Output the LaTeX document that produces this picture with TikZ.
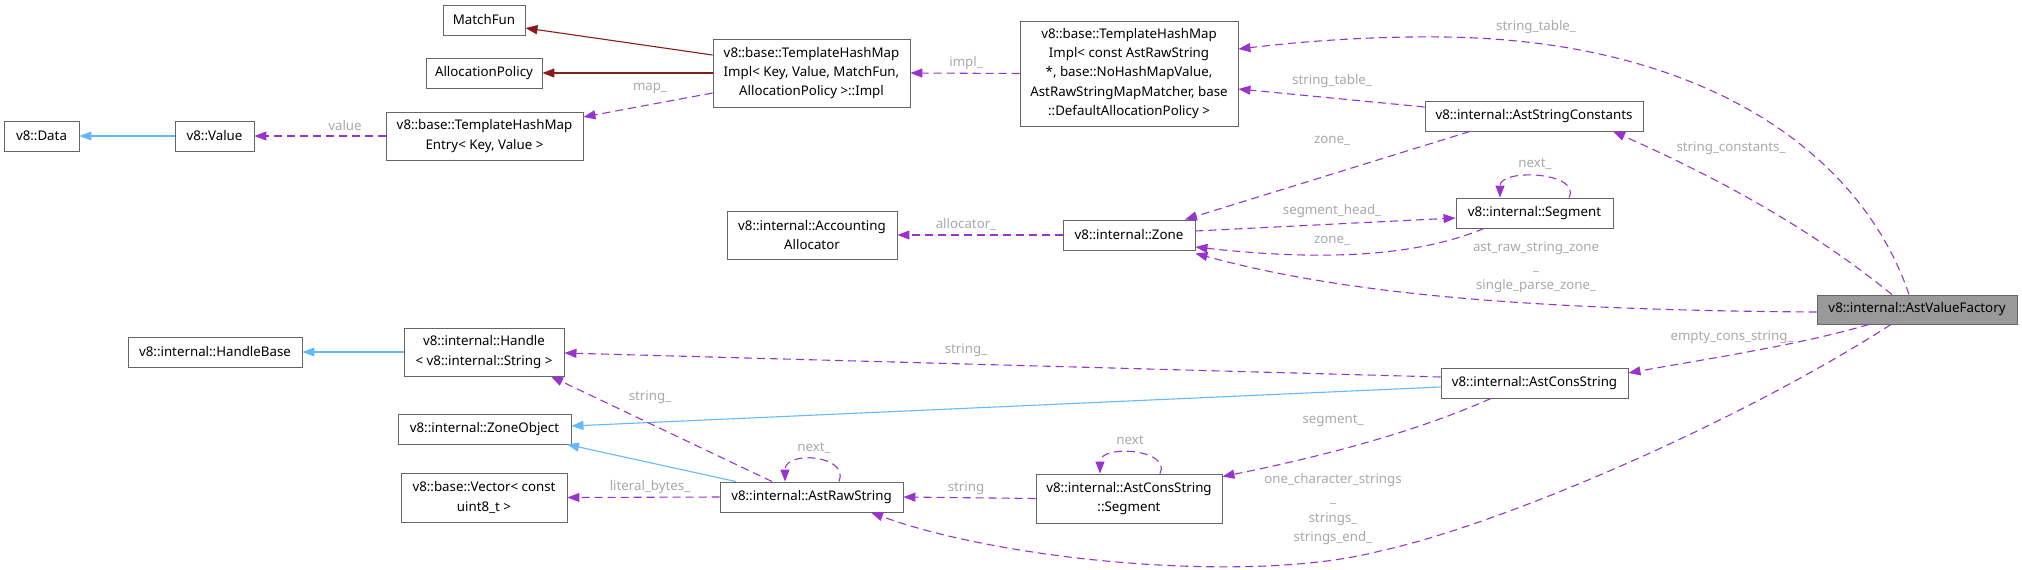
\documentclass[tikz,border=0pt]{standalone}
\usepackage{fontspec}
\setmainfont{Noto Sans}
\usetikzlibrary{arrows.meta}
\definecolor{usecol}{HTML}{9A32CD}
\definecolor{inhcol}{HTML}{63B8FF}
\definecolor{tplcol}{HTML}{8B1A1A}
\definecolor{boxline}{HTML}{666666}
\definecolor{focusfill}{HTML}{999999}
\definecolor{lblcol}{HTML}{A8A8A8}
\newcommand{\boxfont}{\fontsize{13.3}{19.2}\selectfont}

\begin{document}
\begin{tikzpicture}[x=1pt,y=-1pt,
  cls/.style={draw=boxline,fill=white,line width=0.9pt,align=center,inner sep=0pt,font=\boxfont,minimum height=30pt},
  focus/.style={cls,fill=focusfill},
  use/.style={draw=usecol,dash pattern=on 8pt off 5pt,line width=1.1pt,-{Triangle[length=12pt,width=9pt]}},
  inh/.style={draw=inhcol,line width=1.1pt,-{Triangle[length=12pt,width=9pt]}},
  tpl/.style={draw=tplcol,line width=1.1pt,-{Triangle[length=12pt,width=9pt]}},
  lbl/.style={text=lblcol,font=\boxfont,align=center,inner sep=0pt}]
  \useasboundingbox (0,0) rectangle (2022,570);

  \node[cls,minimum width=82pt] (matchfun) at (484,20) {MatchFun};
  \node[cls,minimum width=116pt] (allocpolicy) at (484,73) {AllocationPolicy};
  \node[cls,minimum width=75pt] (data) at (41.5,136) {v8::Data};
  \node[cls,minimum width=79pt] (value) at (214.5,136) {v8::Value};
  \node[cls,minimum width=197pt,minimum height=48pt] (entry) at (484.5,136) {v8::base::TemplateHashMap\\Entry< Key, Value >};
  \node[cls,minimum width=197pt,minimum height=68pt] (implkey) at (811.5,73) {v8::base::TemplateHashMap\\Impl< Key, Value, MatchFun,\\AllocationPolicy >::Impl};
  \node[cls,minimum width=218pt,minimum height=105pt] (implast) at (1129,73.5) {v8::base::TemplateHashMap\\Impl< const AstRawString\\{}*, base::NoHashMapValue,\\AstRawStringMapMatcher, base\\::DefaultAllocationPolicy >};
  \node[cls,minimum width=170pt,minimum height=48pt] (accalloc) at (812,235) {v8::internal::Accounting\\Allocator};
  \node[cls,minimum width=132pt] (zone) at (1129,235) {v8::internal::Zone};
  \node[cls,minimum width=218pt] (strconst) at (1534,116) {v8::internal::AstStringConstants};
  \node[cls,minimum width=157pt] (segment) at (1534.5,213) {v8::internal::Segment};
  \node[focus,minimum width=200pt,minimum height=29pt] (factory) at (1917,309.5) {v8::internal::AstValueFactory};
  \node[cls,minimum width=174pt] (handlebase) at (215,352) {v8::internal::HandleBase};
  \node[cls,minimum width=160pt,minimum height=48pt] (handle) at (484,352) {v8::internal::Handle\\< v8::internal::String >};
  \node[cls,minimum width=173pt] (zoneobj) at (484.5,429) {v8::internal::ZoneObject};
  \node[cls,minimum width=166pt,minimum height=49pt] (vector) at (484,497.5) {v8::base::Vector< const\\uint8\_t >};
  \node[cls,minimum width=183pt] (rawstr) at (811.5,497) {v8::internal::AstRawString};
  \node[cls,minimum width=186pt,minimum height=49pt] (consseg) at (1129,498.5) {v8::internal::AstConsString\\::Segment};
  \node[cls,minimum width=187pt] (consstr) at (1534.5,383) {v8::internal::AstConsString};

  \draw[tpl] ([yshift=18pt]implkey.west) -- ([yshift=-8pt]matchfun.east);
  \draw[tpl] (implkey.west) -- (allocpolicy.east);
  \draw[use] ([yshift=-20pt]implkey.west) -- ([yshift=19pt]entry.east);
  \draw[use] (entry.west) -- (value.east);
  \draw[inh] (value.west) -- (data.east);
  \draw[use] (implast.west) -- (implkey.east);
  \draw[use] ([xshift=-8pt]factory.north) .. controls (1860,150) and (1700,40) .. (1443,37) .. controls (1360,36) and (1290,43) .. ([yshift=24.5pt]implast.east);
  \draw[use] ([yshift=9pt]strconst.west) -- ([yshift=-15.5pt]implast.east);
  \draw[use] ([xshift=-25pt]factory.north) .. controls (1800,220) and (1700,170) .. ([xshift=79pt]strconst.south);
  \draw[use] ([xshift=-64pt]strconst.south) -- ([xshift=56pt]zone.north);
  \draw[use] ([yshift=4pt]zone.east) -- ([yshift=-5pt]segment.west);
  \draw[use] ([xshift=34.5pt]segment.north) .. controls (1582,172) and (1500,168) .. ([xshift=-34.5pt]segment.north);
  \draw[use] ([xshift=-50.5pt]segment.south) .. controls (1420,255) and (1330,262) .. ([yshift=-12pt]zone.east);
  \draw[use] ([yshift=-2.5pt]factory.west) .. controls (1500,310) and (1330,290) .. ([yshift=-3pt]zone.south east);
  \draw[use] (zone.west) -- (accalloc.east);
  \draw[use] ([xshift=-48pt]factory.south) .. controls (1800,345) and (1700,360) .. ([yshift=10pt]consstr.east);
  \draw[use] ([yshift=6pt]consstr.west) -- ([yshift=-1pt]handle.east);
  \draw[inh] ([yshift=-4pt]consstr.west) -- ([yshift=3pt]zoneobj.east);
  \draw[use] ([xshift=-43.5pt]consstr.south) .. controls (1420,430) and (1330,455) .. ([yshift=-3pt]consseg.north east);
  \draw[use] ([xshift=31pt]consseg.north) .. controls (1172,449) and (1100,444) .. ([xshift=-29pt]consseg.north);
  \draw[use] (consseg.west) -- (rawstr.east);
  \draw[use] ([xshift=-26pt]factory.south) .. controls (1736,424) and (1500,525) .. (1380,551) .. controls (1250,585) and (1000,560) .. ([xshift=59.5pt]rawstr.south);
  \draw[use] ([xshift=-39.5pt]rawstr.north) -- ([xshift=67pt]handle.south);
  \draw[inh] ([xshift=-75.5pt]rawstr.north) -- ([xshift=82.5pt]zoneobj.south);
  \draw[use] ([xshift=27.5pt]rawstr.north) .. controls (850,455) and (785,450) .. ([xshift=-26.5pt]rawstr.north);
  \draw[use] (rawstr.west) -- (vector.east);
  \draw[inh] (handle.west) -- (handlebase.east);

  \node[lbl] (lmap) at (650,88) {map\_};
  \node[lbl] (lvalue) at (345,126) {value};
  \node[lbl] (limpl) at (966,63) {impl\_};
  \node[lbl] (ltable) at (1536,27) {string\_table\_};
  \node[lbl] (ltabletwo) at (1332,81) {string\_table\_};
  \node[lbl] (lconst) at (1731,148) {string\_constants\_};
  \node[lbl] (lzoneup) at (1332,141) {zone\_};
  \node[lbl] (lnextseg) at (1535,164) {next\_};
  \node[lbl] (lhead) at (1332,211) {segment\_head\_};
  \node[lbl] (lzonelow) at (1332,241) {zone\_};
  \node[lbl] (lrawzone) at (1536,267) {ast\_raw\_string\_zone\\\_\\single\_parse\_zone\_};
  \node[lbl] (lalloc) at (966,224) {allocator\_};
  \node[lbl] (lempty) at (1732,337) {empty\_cons\_string\_};
  \node[lbl] (lstrlong) at (966,350) {string\_};
  \node[lbl] (lsegment) at (1333,421) {segment\_};
  \node[lbl] (lnextcons) at (1130,440) {next};
  \node[lbl] (lnextraw) at (814,448) {next\_};
  \node[lbl] (lstring) at (966,488) {string};
  \node[lbl] (lchars) at (1333,509) {one\_character\_strings\\\_\\strings\_\\strings\_end\_};
  \node[lbl] (lstrleft) at (650,397) {string\_};
  \node[lbl] (lbytes) at (650,487) {literal\_bytes\_};
\end{tikzpicture}
\end{document}
